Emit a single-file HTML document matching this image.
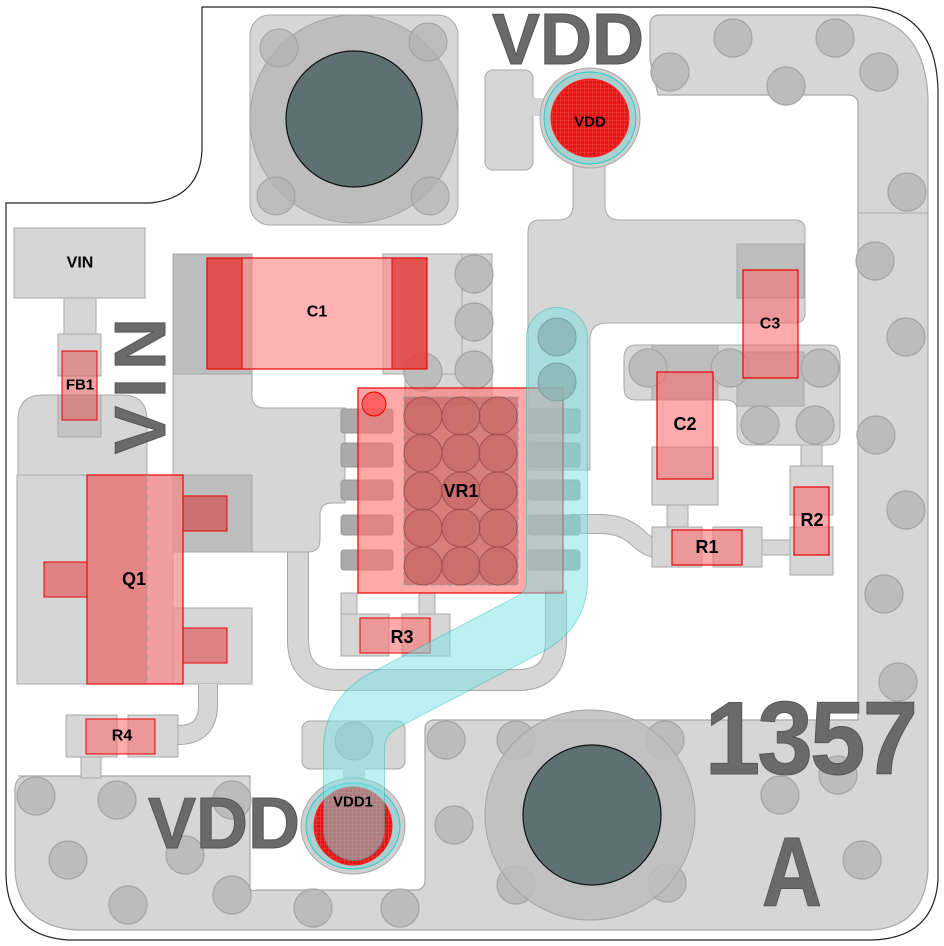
<!DOCTYPE html>
<html><head><meta charset="utf-8"><style>
html,body{margin:0;padding:0;background:#fff;}
svg{display:block;}
.lb{font-family:"Liberation Sans",sans-serif;font-weight:bold;font-size:16px;fill:#000;text-anchor:middle;dominant-baseline:central;}
.big{font-family:"Liberation Sans",sans-serif;font-weight:bold;fill:#6a6a6a;stroke:#555;stroke-width:1;}
</style></head><body>
<svg width="944" height="946" viewBox="0 0 944 946" xmlns="http://www.w3.org/2000/svg">
<defs>
<pattern id="hatch" width="4" height="4" patternUnits="userSpaceOnUse">
<rect width="4" height="4" fill="#e41414"/>
<path d="M0 0H4M0 0V4" stroke="#f07070" stroke-width="0.6"/>
</pattern>
</defs>
<path d="M202,7 H870 Q936,12 938,90 V880 Q934,938 872,940 H68 Q8,936 6,876 V203 H150 Q200,198 202,150 Z" fill="#fff" stroke="#222" stroke-width="1.2"/>
<path d="M18,776 H250 V887 Q250,892 258,890 H415 Q425,890 425,880 V730 Q425,720 435,720 H858 V105 Q858,95 848,95 H658 L650,60 V25 Q650,15 660,15 H860 Q926,22 928,100 V870 Q924,928 870,930 H75 Q18,925 15,870 V790 Q15,776 28,776 Z" fill="#d6d6d6" stroke="#a8a8a8" stroke-width="1.2"/>
<line x1="858" y1="213" x2="928" y2="213" stroke="#a8a8a8"/>
<g fill="#bcbcbc" stroke="#a4a4a4" stroke-width="1.2">
<circle cx="733" cy="38" r="19"/><circle cx="835" cy="38" r="19"/><circle cx="670" cy="72" r="19"/><circle cx="786" cy="86" r="19"/>
<circle cx="879" cy="72" r="19"/><circle cx="907" cy="192" r="19"/><circle cx="875" cy="261" r="19"/><circle cx="906" cy="337" r="19"/>
<circle cx="876" cy="435" r="19"/><circle cx="906" cy="510" r="19"/><circle cx="884" cy="594" r="19"/><circle cx="898" cy="682" r="19"/>
<circle cx="36" cy="796" r="19"/><circle cx="117" cy="800" r="19"/><circle cx="232" cy="800" r="19"/><circle cx="68" cy="860" r="19"/>
<circle cx="185" cy="855" r="19"/><circle cx="128" cy="905" r="19"/><circle cx="232" cy="895" r="19"/><circle cx="313" cy="908" r="19"/>
<circle cx="400" cy="908" r="19"/><circle cx="446" cy="740" r="19"/><circle cx="454" cy="825" r="19"/><circle cx="516" cy="740" r="19"/>
<circle cx="665" cy="740" r="19"/><circle cx="516" cy="885" r="19"/><circle cx="667" cy="883" r="19"/><circle cx="780" cy="795" r="19"/>
<circle cx="862" cy="860" r="19"/><circle cx="838" cy="775" r="19"/>
</g>
<circle cx="590" cy="815" r="105" fill="#bdbdbd" fill-opacity="0.85" stroke="#a4a4a4"/>
<ellipse cx="592" cy="815" rx="69" ry="70" fill="#5f7070" stroke="#111" stroke-width="1.2"/>
<rect x="250" y="15" width="208" height="210" rx="20" fill="#d6d6d6" stroke="#a8a8a8"/>
<circle cx="354" cy="119" r="104" fill="#bdbdbd" stroke="#a4a4a4"/>
<g fill="#b2b2b2" fill-opacity="0.7" stroke="#a0a0a0"><circle cx="279" cy="48" r="19"/><circle cx="428" cy="42" r="19"/><circle cx="276" cy="196" r="19"/><circle cx="430" cy="196" r="19"/></g>
<circle cx="354" cy="119" r="68" fill="#5f7070" stroke="#111" stroke-width="1.2"/>

<rect x="485" y="70" width="48" height="100" rx="8" fill="#d6d6d6" stroke="#a8a8a8"/>
<rect x="528" y="98" width="30" height="18" fill="#d6d6d6"/>
<path d="M573,160 V205 Q573,220 558,220 H540 Q528,220 528,232 V470 H590 V340 Q590,323 607,323 H795 Q805,323 805,313 V230 Q805,220 795,220 H620 Q605,220 605,205 V160 Z" fill="#d6d6d6" stroke="#a8a8a8"/>
<circle cx="590" cy="118" r="50" fill="#d0d0d0" stroke="#a8a8a8"/>
<circle cx="590" cy="118" r="46" fill="#a9d0d0" stroke="#2cc" stroke-width="1"/>
<circle cx="590" cy="118" r="39" fill="url(#hatch)" stroke="#f22"/>
<text class="lb" x="590" y="122" style="font-size:15px">VDD</text>

<path d="M636,345 H830 Q840,345 840,358 V432 Q840,445 828,445 H750 Q737,445 737,432 V410 Q737,400 725,400 H636 Q624,400 624,388 V358 Q624,345 636,345 Z" fill="#d6d6d6" stroke="#a8a8a8"/>
<rect x="737" y="244" width="67" height="54" fill="#bdbdbd" stroke="#a8a8a8"/>
<rect x="737" y="352" width="67" height="54" fill="#bdbdbd" stroke="#a8a8a8"/>
<rect x="652" y="345" width="66" height="55" fill="#bdbdbd" stroke="#a8a8a8"/>
<g fill="#bcbcbc" stroke="#a4a4a4" stroke-width="1.2"><circle cx="648" cy="368" r="19"/><circle cx="730" cy="368" r="19"/><circle cx="820" cy="368" r="19"/><circle cx="760" cy="425" r="19"/><circle cx="815" cy="425" r="19"/></g>
<rect x="652" y="447" width="66" height="58" fill="#d6d6d6" stroke="#a8a8a8"/>
<rect x="667" y="505" width="21" height="22" fill="#d6d6d6" stroke="#a8a8a8"/>
<rect x="801" y="445" width="21" height="21" fill="#d6d6d6" stroke="#a8a8a8"/>
<rect x="790" y="466" width="43" height="49" fill="#d6d6d6" stroke="#a8a8a8"/>
<rect x="790" y="527" width="43" height="48" fill="#d6d6d6" stroke="#a8a8a8"/>
<rect x="762" y="540" width="28" height="15" fill="#d6d6d6" stroke="#a8a8a8"/>
<path d="M570,524 H600 Q625,524 640,540 Q650,548 656,548" fill="none" stroke="#a8a8a8" stroke-width="20"/>
<path d="M570,524 H600 Q625,524 640,540 Q650,548 656,548" fill="none" stroke="#d6d6d6" stroke-width="18"/>
<rect x="652" y="527" width="50" height="40" fill="#d6d6d6" stroke="#a8a8a8"/>
<rect x="713" y="527" width="49" height="40" fill="#d6d6d6" stroke="#a8a8a8"/>
<g fill="#f66" fill-opacity="0.55" stroke="#e00" stroke-width="1.2">
<rect x="743" y="270" width="55" height="108"/>
<rect x="657" y="372" width="56" height="107"/>
<rect x="672" y="530" width="70" height="35"/>
<rect x="794" y="487" width="35" height="68"/>
</g>
<text class="lb" x="770" y="324">C3</text>
<text class="lb" x="685" y="424" style="font-size:18px">C2</text>
<text class="lb" x="707" y="547" style="font-size:18px">R1</text>
<text class="lb" x="812" y="520" style="font-size:18px">R2</text>

<path d="M298,550 V640 Q298,680 338,680 H518 Q556,680 556,640 V590" fill="none" stroke="#a8a8a8" stroke-width="22"/>
<path d="M298,550 V640 Q298,680 338,680 H518 Q556,680 556,640 V590" fill="none" stroke="#d6d6d6" stroke-width="20"/>

<path d="M173,254 H252 V395 Q252,408 265,408 H345 V503 H332 Q320,503 320,515 V540 Q320,552 308,552 H173 Z" fill="#d6d6d6" stroke="#a8a8a8"/>
<rect x="173" y="254" width="79" height="120" fill="#bdbdbd" stroke="#a8a8a8"/>
<rect x="383" y="254" width="109" height="120" fill="#d6d6d6" stroke="#a8a8a8"/>
<line x1="462" y1="254" x2="462" y2="374" stroke="#a8a8a8"/>
<rect x="405" y="374" width="87" height="30" fill="#d6d6d6" stroke="#a8a8a8"/>
<g fill="#bcbcbc" stroke="#a4a4a4" stroke-width="1.2"><circle cx="474" cy="274" r="19"/><circle cx="474" cy="322" r="19"/><circle cx="474" cy="370" r="19"/><circle cx="423" cy="372" r="19"/></g>
<rect x="207" y="258" width="220" height="111" fill="#ff8080" fill-opacity="0.6" stroke="#e00" stroke-width="1.2"/>
<rect x="207" y="258" width="35" height="111" fill="#e03030" fill-opacity="0.7" stroke="#e00"/>
<rect x="392" y="258" width="35" height="111" fill="#e03030" fill-opacity="0.7" stroke="#e00"/>
<text class="lb" x="317" y="312">C1</text>

<g fill="#aaaaaa" stroke="#999" stroke-width="1">
<rect x="341" y="409" width="52" height="24" rx="3"/><rect x="341" y="443" width="52" height="24" rx="3"/><rect x="341" y="480" width="52" height="20" rx="3"/><rect x="341" y="515" width="52" height="20" rx="3"/><rect x="341" y="550" width="52" height="20" rx="3"/>
<rect x="528" y="409" width="52" height="24" rx="3"/><rect x="528" y="443" width="52" height="24" rx="3"/><rect x="528" y="480" width="52" height="20" rx="3"/><rect x="528" y="515" width="52" height="20" rx="3"/><rect x="528" y="550" width="52" height="20" rx="3"/>
</g>
<rect x="341" y="593" width="16" height="21" fill="#d6d6d6" stroke="#a8a8a8"/>
<rect x="419" y="593" width="16" height="21" fill="#d6d6d6" stroke="#a8a8a8"/>
<rect x="358" y="388" width="205" height="205" fill="#ff7070" fill-opacity="0.6" stroke="#e00" stroke-width="1.2"/>
<rect x="404" y="397" width="114" height="188" fill="#b85858" fill-opacity="0.55" stroke="#999" stroke-dasharray="5,3"/>
<g fill="#c06060" fill-opacity="0.5" stroke="#a05050" stroke-width="1">
<circle cx="423" cy="416" r="19"/><circle cx="461" cy="416" r="19"/><circle cx="498" cy="416" r="19"/>
<circle cx="423" cy="453" r="19"/><circle cx="461" cy="453" r="19"/><circle cx="498" cy="453" r="19"/>
<circle cx="423" cy="491" r="19"/><circle cx="461" cy="491" r="19"/><circle cx="498" cy="491" r="19"/>
<circle cx="423" cy="528" r="19"/><circle cx="461" cy="528" r="19"/><circle cx="498" cy="528" r="19"/>
<circle cx="423" cy="566" r="19"/><circle cx="461" cy="566" r="19"/><circle cx="498" cy="566" r="19"/>
</g>
<circle cx="374" cy="404" r="12" fill="#ff5050" fill-opacity="0.8" stroke="#e00"/>
<text class="lb" x="461" y="491" style="font-size:18px">VR1</text>

<rect x="341" y="614" width="48" height="42" fill="#d6d6d6" stroke="#a8a8a8"/>
<rect x="402" y="614" width="48" height="42" fill="#d6d6d6" stroke="#a8a8a8"/>
<rect x="360" y="618" width="70" height="35" fill="#f66" fill-opacity="0.55" stroke="#e00"/>
<text class="lb" x="402" y="637" style="font-size:18px">R3</text>

<rect x="14" y="228" width="131" height="70" fill="#d6d6d6" stroke="#a8a8a8"/>
<text class="lb" x="80" y="263">VIN</text>
<rect x="64" y="298" width="32" height="37" fill="#d6d6d6" stroke="#a8a8a8"/>
<path d="M18,475 V420 Q18,395 43,395 H122 Q147,395 147,420 V475 Z" fill="#d6d6d6" stroke="#a8a8a8"/>
<rect x="58" y="334" width="43" height="42" fill="#d6d6d6" stroke="#a8a8a8"/>
<rect x="58" y="395" width="43" height="42" fill="#c4c4c4" stroke="#a8a8a8"/>
<rect x="62" y="351" width="35" height="69" fill="#e06060" fill-opacity="0.6" stroke="#e00"/>
<text class="lb" x="80" y="385" style="font-size:15px">FB1</text>
<rect x="17" y="475" width="156" height="209" fill="#d6d6d6" stroke="#a8a8a8"/>
<rect x="173" y="475" width="79" height="77" fill="#bdbdbd" stroke="#a8a8a8"/>
<rect x="173" y="608" width="79" height="76" fill="#d6d6d6" stroke="#a8a8a8"/>
<rect x="87" y="475" width="96" height="209" fill="#ff8080" fill-opacity="0.65" stroke="#e00" stroke-width="1.2"/>
<rect x="87" y="475" width="60" height="209" fill="#c85050" fill-opacity="0.3"/>
<line x1="147" y1="475" x2="147" y2="684" stroke="#999" stroke-dasharray="6,4"/>
<rect x="44" y="562" width="43" height="35" fill="#e06060" fill-opacity="0.7" stroke="#e00"/>
<rect x="183" y="496" width="44" height="35" fill="#d05050" fill-opacity="0.7" stroke="#e00"/>
<rect x="183" y="628" width="44" height="35" fill="#e06060" fill-opacity="0.7" stroke="#e00"/>
<text class="lb" x="134" y="579" style="font-size:18px">Q1</text>
<path d="M178,735 Q208,735 208,705 V684" fill="none" stroke="#a8a8a8" stroke-width="20"/>
<path d="M178,735 Q208,735 208,705 V684" fill="none" stroke="#d6d6d6" stroke-width="18"/>
<rect x="81" y="757" width="20" height="21" fill="#d6d6d6" stroke="#a8a8a8"/>
<rect x="66" y="715" width="51" height="42" fill="#d6d6d6" stroke="#a8a8a8"/>
<rect x="128" y="715" width="50" height="42" fill="#d6d6d6" stroke="#a8a8a8"/>
<rect x="86" y="719" width="69" height="35" fill="#f66" fill-opacity="0.55" stroke="#e00"/>
<text class="lb" x="122" y="736">R4</text>

<rect x="302" y="721" width="103" height="48" rx="8" fill="#d6d6d6" stroke="#a8a8a8"/>
<rect x="343" y="765" width="22" height="16" fill="#d6d6d6"/>
<circle cx="354" cy="741" r="19" fill="#bcbcbc" stroke="#a4a4a4"/>
<ellipse cx="353" cy="826" rx="52" ry="48" fill="#d0d0d0" stroke="#a8a8a8"/>
<ellipse cx="353" cy="826" rx="47" ry="43" fill="#a9d0d0" stroke="#2cc"/>
<circle cx="353" cy="826" r="39" fill="url(#hatch)" stroke="#f22"/>

<g opacity="0.5">
<path d="M557,338 V580 Q557,610 528,625 L385,700 Q354,716 354,750 V830" fill="none" stroke="#22bbbb" stroke-width="62" stroke-linecap="round"/>
<path d="M557,338 V580 Q557,610 528,625 L385,700 Q354,716 354,750 V830" fill="none" stroke="#7ae5e5" stroke-width="60" stroke-linecap="round"/>
</g>
<g fill="#8cb4b4" fill-opacity="0.8" stroke="#7a9f9f"><circle cx="557" cy="337" r="19"/><circle cx="557" cy="382" r="19"/></g>
<text class="lb" x="353" y="802" style="font-size:15px">VDD1</text>

<text class="big" x="568" y="64" font-size="72" text-anchor="middle">VDD</text>
<text class="big" x="224" y="848" font-size="72" text-anchor="middle">VDD</text>
<text class="big" font-size="104" text-anchor="middle" letter-spacing="-3" transform="translate(810,774) scale(0.96,1)">1357</text>
<text class="big" font-size="98" text-anchor="middle" transform="translate(792,906) scale(0.85,1)">A</text>
<text class="big" x="0" y="0" font-size="72" text-anchor="middle" letter-spacing="8" transform="translate(165,382) rotate(-90)">VIN</text>
</svg>
</body></html>
